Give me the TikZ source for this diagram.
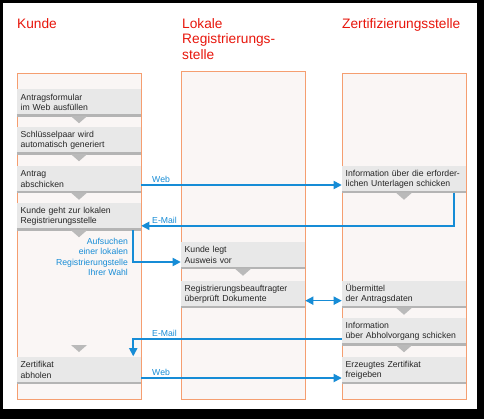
\documentclass[tikz,border=0pt]{standalone}
\usepackage{fontspec}
\setmainfont{Liberation Sans}
\usetikzlibrary{arrows.meta, positioning, calc}
\definecolor{lanefill}{RGB}{250,246,245}
\definecolor{laneorange}{RGB}{245,158,112}
\definecolor{boxgray}{RGB}{232,232,232}
\definecolor{boxline}{RGB}{180,180,180}
\definecolor{trigray}{RGB}{186,186,186}
\definecolor{flowblue}{RGB}{22,140,214}
\definecolor{titlered}{RGB}{232,22,12}
\tikzset{
  lane/.style={rectangle, draw=laneorange, fill=lanefill, line width=0.8pt,
               minimum width=3.72cm, minimum height=9.78cm, anchor=north, inner sep=0pt},
  stepbox/.style={rectangle, fill=boxgray, text width=3.5cm, inner xsep=0.11cm,
                  inner ysep=0pt, minimum height=0.81cm, align=left, text=black!85,
                  font=\fontsize{7.4}{8.8}\selectfont,
                  path picture={\draw[line width=3pt, boxline]
                    (path picture bounding box.south west) -- (path picture bounding box.south east);}},
  title/.style={anchor=north west, inner sep=0pt, align=left, text=titlered,
                font=\fontsize{11.7}{13.2}\selectfont},
  drop/.pic={\fill[trigray] (-8,0) -- (8,0) -- (0,7) -- cycle;}
}

\begin{document}
\begin{tikzpicture}[x=0.03cm, y=-0.03cm,
    >={Triangle[length=7pt, width=7pt]},
    flow/.style={->, line width=1.4pt, draw=flowblue},
    lbl/.style={font=\fontsize{7.4}{8.8}\selectfont, text=flowblue, inner sep=1pt}
  ]

  % Frame
  \fill[black] (0,0) rectangle (484,419);
  \fill[white] (3,3) rectangle (477,409);

  % Titles
  \node[title] (tK) at (17,18)  {Kunde};
  \node[title] (tL) at (182,18) {Lokale\\Registrierungs-\\stelle};
  \node[title] (tZ) at (342,18) {Zertifizierungsstelle};

  % Lanes
  \node[lane] (kunde) at (79,73) {};
  \node[lane, minimum height=9.84cm] (lokal) at (243,71) {};
  \node[lane] (zert) at (404,73) {};

  % Kunde
  \node[stepbox] (K1) at (79,102.5) {Antragsformular\\im Web ausfüllen};
  \node[stepbox] (K2) at (79,140.5) {Schlüsselpaar wird\\automatisch generiert};
  \node[stepbox] (K3) at (79,179)   {Antrag\\abschicken};
  \node[stepbox] (K4) at (79,216.5) {Kunde geht zur lokalen\\Registrierungsstelle};
  \node[stepbox] (K5) at (79,370)   {Zertifikat\\abholen};

  % Lokale Registrierungsstelle
  \node[stepbox] (L1) at (243,255) {Kunde legt\\Ausweis vor};
  \node[stepbox] (L2) at (243,294) {Registrierungsbeauftragter\\überprüft Dokumente};

  % Zertifizierungsstelle
  \node[stepbox] (Z1) at (404,179)   {Information über die erforder-\\lichen Unterlagen schicken};
  \node[stepbox] (Z2) at (404,294)   {Übermittel\\der Antragsdaten};
  \node[stepbox] (Z3) at (404,331.5) {Information\\über Abholvorgang schicken};
  \node[stepbox] (Z4) at (404,370)   {Erzeugtes Zertifikat\\freigeben};

  % Drops below steps
  \foreach \b in {K1,K2,K3,K4,L1,Z1,Z2,Z3}
    \pic at (\b.south) {drop};
  \pic at (79,345) {drop};

  % Flows
  \draw[flow] ([yshift=-0.18cm]K3.east) --
        node[lbl, pos=0, anchor=south west, xshift=0.27cm]{Web} ([yshift=-0.18cm]Z1.west);
  \draw[flow] ([xshift=-0.36cm]Z1.south east) |-
        node[lbl, pos=1, anchor=south west, xshift=0.27cm]{E-Mail} ([yshift=-0.28cm]K4.east);
  \draw[flow] ([xshift=-0.24cm]K4.south east) |-
        node[lbl, pos=0, anchor=north east, xshift=-0.1cm, yshift=-0.18cm, align=right]
        {Aufsuchen\\einer lokalen\\Registrierungstelle\\Ihrer Wahl} ([yshift=-0.21cm]L1.west);
  \draw[flow, <->] ([yshift=-0.2cm]L2.east) -- ([yshift=-0.2cm]Z2.west);
  \draw[flow] ([yshift=-0.22cm]Z3.west) -|
        node[lbl, pos=0.5, anchor=south west, xshift=0.51cm]{E-Mail} ([xshift=-0.24cm]K5.north east);
  \draw[flow] ([yshift=-0.24cm]K5.east) --
        node[lbl, pos=0, anchor=south west, xshift=0.27cm]{Web} ([yshift=-0.24cm]Z4.west);
\end{tikzpicture}
\end{document}
